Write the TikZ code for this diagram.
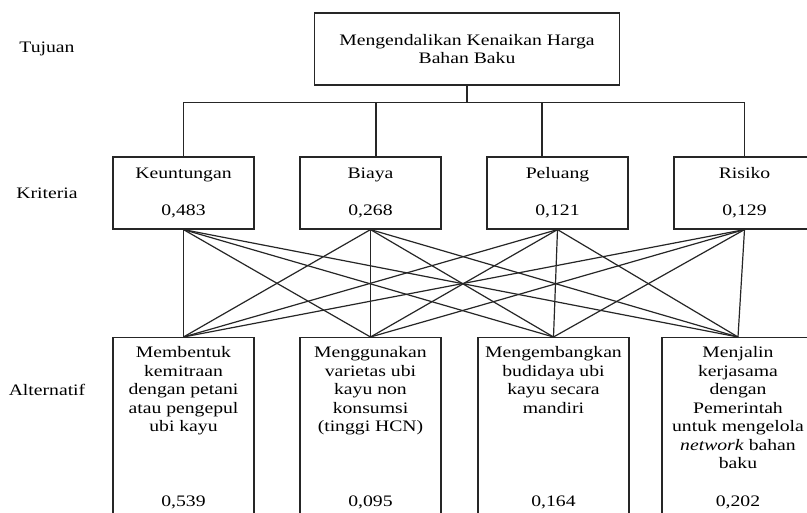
\documentclass[tikz,border=0pt]{standalone}
\usepackage{fontspec}
\setmainfont{Liberation Serif}[FakeStretch=1.23]

\begin{document}
\begin{tikzpicture}[
    x=0.75pt, y=-0.75pt,
    font=\fontsize{12}{13.9}\selectfont,
    garis/.style={draw=black!85, line width=0.9pt},
    goalbox/.style={garis, minimum width=228.75pt, minimum height=54pt,
                    align=center},
    kriteria/.style={garis, minimum width=105.75pt, minimum height=54pt,
                     align=center, inner sep=0pt},
    alternatif/.style={garis, anchor=north, inner xsep=0pt, inner ysep=6.8pt},
  ]
    \useasboundingbox (0,0) rectangle (807,513);
    \fill[white] (0,0) rectangle (807,513);
    \clip (0,0) rectangle (807,513);

    % level labels
    \node (lTujuan) at (47,49) {Tujuan};
    \node (lKriteria) at (47,193) {Kriteria};
    \node (lAlternatif) at (47,390) {Alternatif};

    % goal
    \node[goalbox] (tujuan) at (467,49) {
      Mengendalikan Kenaikan Harga\\Bahan Baku
    };

    % criteria
    \node[kriteria] (keuntungan) at (183.5,193) {Keuntungan\\[13.9pt]0,483};
    \node[kriteria] (biaya) at (370.5,193) {Biaya\\[13.9pt]0,268};
    \node[kriteria] (peluang) at (557.5,193) {Peluang\\[13.9pt]0,121};
    \node[kriteria] (risiko) at (744.5,193) {Risiko\\[13.9pt]0,129};

    % alternatives
    \node[alternatif] (alt1) at (183.5,337) {
      \parbox[t][120pt][s]{105.75pt}{\centering
        Membentuk\\kemitraan\\dengan petani\\atau pengepul\\ubi kayu\par
        \vfill 0,539}
    };
    \node[alternatif] (alt2) at (370.5,337) {
      \parbox[t][120pt][s]{105.75pt}{\centering
        Menggunakan\\varietas ubi\\kayu non\\konsumsi\\(tinggi HCN)\par
        \vfill 0,095}
    };
    \node[alternatif] (alt3) at (553.5,337) {
      \parbox[t][120pt][s]{113.25pt}{\centering
        Mengembangkan\\budidaya ubi\\kayu secara\\mandiri\par
        \vfill 0,164}
    };
    \node[alternatif] (alt4) at (738,337) {
      \parbox[t][120pt][s]{114pt}{\centering
        Menjalin\\kerjasama\\dengan\\Pemerintah\\untuk mengelola\\
        \textit{network} bahan\\baku\par
        \vfill 0,202}
    };

    % goal to criteria
    \draw[garis] (tujuan.south) -- ++(0,17) coordinate (bus);
    \draw[garis] (keuntungan.north) |- (bus);
    \draw[garis] ([xshift=4.1pt]biaya.north) |- (bus);
    \draw[garis] ([xshift=-11.6pt]peluang.north) |- (bus);
    \draw[garis] (risiko.north) |- (bus);

    % criteria to alternatives
    \foreach \k in {keuntungan,biaya,peluang,risiko}
      \foreach \a in {alt1,alt2,alt3,alt4}
        \draw[garis] (\k.south) -- (\a.north);
  \end{tikzpicture}
\end{document}
